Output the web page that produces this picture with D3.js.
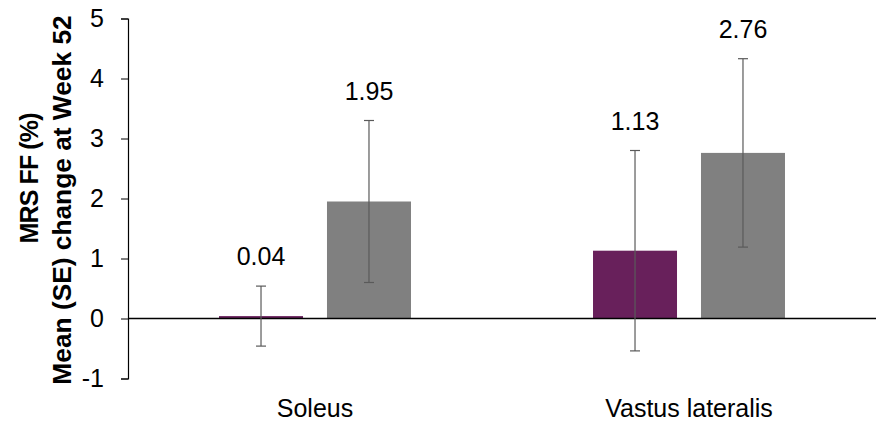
<!DOCTYPE html>
<html>
<head>
<meta charset="utf-8">
<script src="https://cdn.jsdelivr.net/npm/d3@7"></script>
<style>
  html, body { margin: 0; padding: 0; background: #fff; }
  svg { display: block; font-family: Arial, "Liberation Sans", sans-serif; }
</style>
</head>
<body>
<svg id="chart" width="878" height="424"></svg>
<script>
// Muscle groups on the x axis
const categories = ["Soleus", "Vastus lateralis"];
// Two treatment arms
const seriesNames = ["armA", "armB"];
const armAValues = [0.04, 1.13];
const armBValues = [1.95, 2.76];
// Standard errors for each bar
const armASE = [0.50, 1.67];
const armBSE = [1.35, 1.57];
const yTicks = [-1, 0, 1, 2, 3, 4, 5];
const titleLines = ["MRS FF (%)", "Mean (SE) change at Week 52"];
const colors = { armA: "#68205b", armB: "#808080" };

const rows = [];
categories.forEach((c, i) => {
  rows.push({ cat: c, series: "armA", value: armAValues[i], se: armASE[i] });
  rows.push({ cat: c, series: "armB", value: armBValues[i], se: armBSE[i] });
});

const svg = d3.select("#chart");
const plotLeft = 128, plotRight = 876, plotTop = 18.5, plotBottom = 378.5;

const y = d3.scaleLinear().domain([-1, 5]).range([plotBottom, plotTop]);
const x0 = d3.scaleBand().domain(categories).range([plotLeft, plotRight]).padding(0);
const x1 = d3.scaleBand().domain(seriesNames).range([0, x0.bandwidth()])
  .paddingInner(0.222).paddingOuter(0.843);

// Bars
svg.append("g").selectAll("rect").data(rows).join("rect")
  .attr("x", d => x0(d.cat) + x1(d.series))
  .attr("width", x1.bandwidth())
  .attr("y", d => y(Math.max(0, d.value)))
  .attr("height", d => Math.abs(y(d.value) - y(0)))
  .attr("fill", d => colors[d.series]);

// Zero baseline
svg.append("line")
  .attr("x1", plotLeft).attr("x2", plotRight)
  .attr("y1", y(0)).attr("y2", y(0))
  .attr("stroke", "#000").attr("stroke-width", 1.3);

// Error bars
const eb = svg.append("g").attr("stroke", "#5a5a5a").attr("stroke-width", 1.2);
rows.forEach(d => {
  const cx = x0(d.cat) + x1(d.series) + x1.bandwidth() / 2;
  const y1 = y(d.value + d.se), y2 = y(d.value - d.se);
  eb.append("line").attr("x1", cx).attr("x2", cx).attr("y1", y1).attr("y2", y2);
  eb.append("line").attr("x1", cx - 5).attr("x2", cx + 5).attr("y1", y1).attr("y2", y1);
  eb.append("line").attr("x1", cx - 5).attr("x2", cx + 5).attr("y1", y2).attr("y2", y2);
});

// Value labels above the error bars
svg.append("g").selectAll("text").data(rows).join("text")
  .attr("x", d => x0(d.cat) + x1(d.series) + x1.bandwidth() / 2)
  .attr("y", d => y(d.value + d.se) - 21)
  .attr("text-anchor", "middle")
  .attr("font-size", 25)
  .attr("fill", "#000")
  .text(d => d.value.toFixed(2));

// Y axis
const yAxis = svg.append("g")
  .attr("transform", `translate(${plotLeft},0)`)
  .call(d3.axisLeft(y).tickValues(yTicks).tickFormat(d => String(d)).tickSize(7).tickPadding(17));
yAxis.select(".domain").attr("stroke", "#000").attr("stroke-width", 1.2);
yAxis.selectAll(".tick line").attr("stroke", "#000");
yAxis.selectAll(".tick text")
  .attr("font-size", 25).attr("fill", "#000")
  .attr("font-family", 'Arial, "Liberation Sans", sans-serif');

// Category labels
svg.append("g").selectAll("text").data(categories).join("text")
  .attr("x", d => x0(d) + x0.bandwidth() / 2)
  .attr("y", 417)
  .attr("text-anchor", "middle")
  .attr("font-size", 25)
  .attr("fill", "#000")
  .text(d => d);

// Y axis title: two rotated bold lines
svg.append("text")
  .attr("transform", "translate(38,178) rotate(-90)")
  .attr("text-anchor", "middle")
  .attr("font-size", 25)
  .attr("font-weight", "bold")
  .attr("fill", "#000")
  .attr("textLength", 131)
  .attr("lengthAdjust", "spacing")
  .text(titleLines[0]);
svg.append("text")
  .attr("transform", "translate(71,200) rotate(-90)")
  .attr("text-anchor", "middle")
  .attr("font-size", 26.3)
  .attr("font-weight", "bold")
  .attr("fill", "#000")
  .text(titleLines[1]);
</script>
</body>
</html>
